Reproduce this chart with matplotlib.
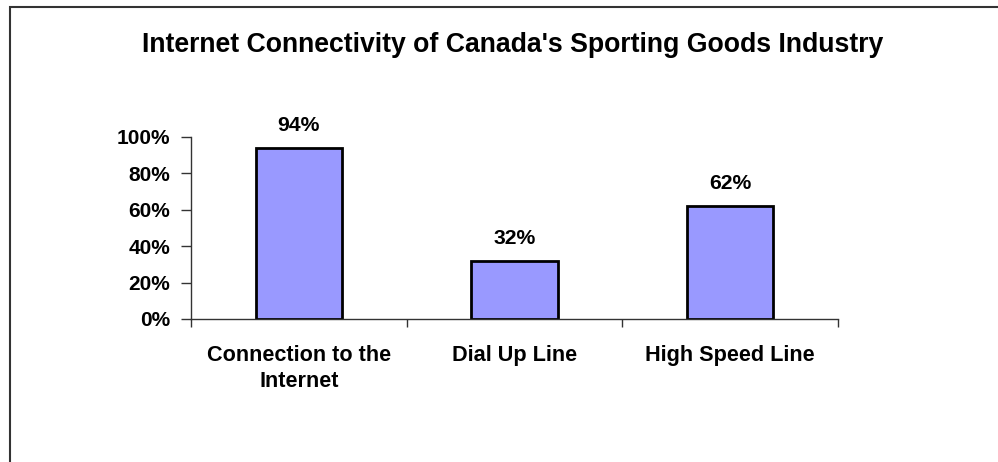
import matplotlib
matplotlib.use("Agg")
import matplotlib.pyplot as plt
from matplotlib.patches import Rectangle
from matplotlib.ticker import FuncFormatter

categories = ["Connection to the\nInternet", "Dial Up Line", "High Speed Line"]
values = [94, 32, 62]
yticks = [0, 20, 40, 60, 80, 100]
title = "Internet Connectivity of Canada's Sporting Goods Industry"

plt.rcParams["font.family"] = ["Liberation Sans", "DejaVu Sans"]
plt.rcParams["font.weight"] = "bold"

W, H = 998, 462
fig = plt.figure(figsize=(W / 100, H / 100), dpi=100)

# outer chart border (left and top edges visible)
fig.patches.append(Rectangle((9.5 / W, -0.1), 1.2, 1.1 - 7.5 / H,
                             transform=fig.transFigure, fill=False,
                             edgecolor="#333333", linewidth=1.5))

# plot area in pixel coordinates
x0, x1 = 191, 838
y0, y1 = 319, 137
ax = fig.add_axes([x0 / W, 1 - y0 / H, (x1 - x0) / W, (y0 - y1) / H])

pos = list(range(len(categories)))
ax.bar(pos, values, width=0.4, color="#9999FF", edgecolor="black", linewidth=2)
for p, v in zip(pos, values):
    ax.text(p, v + 7, f"{v}%", ha="center", va="bottom",
            fontsize=15.2, fontweight="bold")

ax.set_xlim(-0.5, len(categories) - 0.5)
ax.set_ylim(0, 100)
ax.set_yticks(yticks)
ax.yaxis.set_major_formatter(FuncFormatter(lambda v, _: f"{v:.0f}%"))
ax.set_xticks([-0.5, 0.5, 1.5, 2.5])
ax.set_xticklabels([])
ax.set_xticks(pos, minor=True)
ax.set_xticklabels(categories, minor=True, fontsize=15.6, fontweight="bold",
                   linespacing=1.3)
ax.tick_params(axis="x", which="minor", length=0, pad=19)
ax.tick_params(axis="x", which="major", length=6, width=1, color="#333333", direction="out")
ax.tick_params(axis="y", length=7, width=1, color="#333333", direction="out",
               labelsize=15, pad=8)
for lbl in ax.get_yticklabels():
    lbl.set_fontweight("bold")

for s in ["top", "right"]:
    ax.spines[s].set_visible(False)
for s in ["left", "bottom"]:
    ax.spines[s].set_color("#333333")
    ax.spines[s].set_linewidth(1)
ax.set_facecolor("none")

fig.text(513 / W, 1 - 45 / H, title, ha="center", va="center",
         fontsize=19.2, fontweight="bold")

fig.savefig("out.png", dpi=100)
